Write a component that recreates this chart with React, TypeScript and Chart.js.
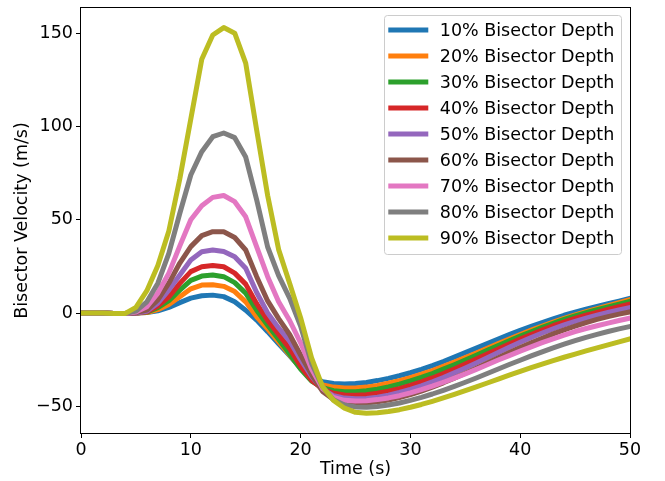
import React, { useEffect, useRef } from "react";
import { Chart, registerables } from "chart.js";
Chart.register(...registerables);

const time = [0, 1, 2, 3, 4, 5, 6, 7, 8, 9, 10, 11, 12, 13, 14, 15, 16, 17, 18, 19, 20, 21, 22, 23, 24, 25, 26, 27, 28, 29, 30, 31, 32, 33, 34, 35, 36, 37, 38, 39, 40, 41, 42, 43, 44, 45, 46, 47, 48, 49, 50];

const depth10 = [0, 0, 0, -0.2, -0.3, 0.0, 0.3, 1.2, 3.0, 5.6, 8.0, 9.3, 9.6, 8.8, 6.0, 1.5, -3.8, -10.0, -16.5, -22.8, -29.5, -34.5, -36.8, -37.7, -38.0, -37.8, -37.2, -36.2, -35.0, -33.6, -32.0, -30.2, -28.2, -26.0, -23.6, -21.2, -18.8, -16.4, -14.0, -11.6, -9.3, -7.2, -5.1, -3.1, -1.2, 0.5, 2.1, 3.6, 5.0, 6.4, 7.9];
const depth20 = [0, 0, 0, -0.2, -0.3, 0.0, 0.3, 1.8, 4.6, 8.7, 13.0, 15.0, 15.2, 14.3, 11.5, 6.0, -2.0, -8.5, -15.5, -22.5, -29.5, -35.5, -38.5, -39.7, -40.2, -40.2, -39.7, -38.8, -37.6, -36.2, -34.6, -32.8, -30.8, -28.6, -26.3, -23.9, -21.4, -18.9, -16.4, -13.9, -11.5, -9.2, -7.0, -4.9, -2.9, -1.0, 0.7, 2.4, 4.0, 5.6, 7.2];
const depth30 = [0, 0, 0, -0.2, -0.3, 0.0, 0.5, 2.9, 6.6, 12.3, 17.5, 19.8, 20.4, 19.5, 16.3, 10.7, 1.5, -6.5, -14.0, -22.0, -30.0, -36.5, -40.0, -41.6, -42.2, -42.2, -41.7, -40.8, -39.6, -38.1, -36.4, -34.5, -32.4, -30.1, -27.7, -25.2, -22.6, -20.0, -17.4, -14.9, -12.4, -10.0, -7.7, -5.5, -3.4, -1.5, 0.2, 1.8, 3.3, 4.8, 6.3];
const depth40 = [0, 0, 0, -0.2, -0.3, 0.0, 0.7, 3.8, 8.7, 15.9, 22.2, 24.8, 25.5, 24.8, 21.4, 15.5, 5.0, -4.0, -11.5, -19.0, -28.5, -36.0, -40.8, -43.0, -43.9, -44.1, -43.8, -43.0, -41.9, -40.5, -38.8, -36.9, -34.8, -32.5, -30.0, -27.4, -24.7, -22.0, -19.3, -16.6, -14.0, -11.5, -9.1, -6.8, -4.8, -2.9, -1.2, 0.4, 1.9, 3.4, 4.8];
const depth50 = [0, 0, 0, -0.2, -0.3, 0.0, 1.0, 5.3, 12.3, 20.4, 28.4, 32.9, 33.8, 33.0, 30.2, 24.0, 11.0, 0.0, -8.0, -15.0, -25.0, -34.0, -41.0, -44.3, -45.6, -46.0, -45.8, -45.1, -44.0, -42.6, -40.9, -39.0, -36.9, -34.6, -32.1, -29.5, -26.8, -24.0, -21.2, -18.4, -15.7, -13.1, -10.7, -8.5, -6.4, -4.5, -2.8, -1.2, 0.3, 1.7, 3.0];
const depth60 = [0, 0, 0, -0.2, -0.3, 0.2, 1.6, 7.0, 16.0, 26.8, 35.6, 41.5, 43.6, 43.6, 40.5, 33.8, 19.5, 6.5, -3.0, -11.5, -22.5, -33.0, -42.0, -46.3, -47.8, -48.3, -48.2, -47.6, -46.6, -45.3, -43.7, -41.8, -39.7, -37.4, -34.9, -32.3, -29.6, -26.8, -24.0, -21.2, -18.5, -16.0, -13.6, -11.2, -9.0, -7.0, -5.1, -3.4, -1.9, -0.6, 0.6];
const depth70 = [0, 0, 0, -0.2, -0.3, 0.5, 3.4, 10.7, 21.4, 36.0, 50.0, 57.5, 62.0, 63.0, 59.7, 51.6, 35.5, 19.5, 6.0, -4.0, -16.0, -30.0, -40.5, -45.2, -46.8, -47.2, -47.0, -46.4, -45.5, -44.3, -42.8, -41.1, -39.2, -37.1, -34.9, -32.6, -30.2, -27.7, -25.2, -22.8, -20.4, -18.1, -15.9, -13.8, -11.8, -9.9, -8.3, -6.8, -5.4, -4.0, -2.7];
const depth80 = [0, 0, 0, -0.2, -0.3, 1.0, 6.0, 16.0, 32.0, 53.5, 74.0, 86.5, 94.5, 96.5, 94.0, 83.6, 60.6, 35.4, 20.0, 8.0, -7.0, -27.0, -39.5, -46.5, -49.3, -50.3, -50.5, -50.1, -49.3, -48.2, -46.8, -45.2, -43.4, -41.4, -39.3, -37.1, -34.8, -32.4, -30.0, -27.6, -25.3, -23.0, -20.8, -18.7, -16.7, -14.8, -13.0, -11.4, -9.9, -8.5, -7.2];
const depth90 = [0, 0, 0, -0.2, -0.3, 3.0, 12.0, 25.5, 44.0, 72.0, 104.0, 136.0, 149.0, 153.0, 150.0, 134.0, 98.0, 63.0, 34.0, 16.0, -2.5, -24.0, -39.5, -46.8, -51.0, -53.2, -53.7, -53.5, -52.8, -51.8, -50.5, -49.0, -47.3, -45.5, -43.6, -41.6, -39.6, -37.5, -35.4, -33.3, -31.3, -29.3, -27.4, -25.5, -23.7, -22.0, -20.3, -18.7, -17.1, -15.5, -13.8];

const seriesLabels = ["10% Bisector Depth", "20% Bisector Depth", "30% Bisector Depth", "40% Bisector Depth", "50% Bisector Depth", "60% Bisector Depth", "70% Bisector Depth", "80% Bisector Depth", "90% Bisector Depth"];
const seriesColors = ["#1f77b4", "#ff7f0e", "#2ca02c", "#d62728", "#9467bd", "#8c564b", "#e377c2", "#7f7f7f", "#bcbd22"];
const xTicks = [0, 10, 20, 30, 40, 50];
const yTicks = [-50, 0, 50, 100, 150];

const FONT = "'DejaVu Sans', sans-serif";
const FS = 17.5;

const spinesPlugin = {
  id: "spines",
  afterDatasetsDraw(chart: any) {
    const { ctx, chartArea } = chart;
    const { left, top, right, bottom } = chartArea;
    ctx.save();
    ctx.strokeStyle = "#000";
    ctx.lineWidth = 1;
    ctx.strokeRect(left - 0.5, top - 0.5, right - left + 1, bottom - top + 1);
    ctx.restore();
  },
};

const legendPlugin = {
  id: "mplLegend",
  afterDraw(chart: any) {
    const { ctx, chartArea } = chart;
    const datasets = chart.data.datasets;
    ctx.save();
    ctx.font = `${FS}px ${FONT}`;
    const textW = Math.max(...datasets.map((d: any) => ctx.measureText(d.label).width));
    const pad = 0.4 * FS;
    const handleLen = 2 * FS;
    const handlePad = 0.8 * FS;
    const axPad = 0.5 * FS;
    const rowH = 26;
    const textH = 17;
    const boxW = pad * 2 + handleLen + handlePad + textW;
    const boxH = pad * 2 + (datasets.length - 1) * rowH + textH;
    const x1 = chartArea.right - axPad;
    const x0 = x1 - boxW;
    const y0 = chartArea.top + 6.5;
    ctx.beginPath();
    ctx.roundRect(Math.round(x0) + 0.5, Math.round(y0) + 0.5, Math.round(boxW), Math.round(boxH), 3);
    ctx.fillStyle = "rgba(255,255,255,0.8)";
    ctx.fill();
    ctx.strokeStyle = "#cccccc";
    ctx.lineWidth = 1;
    ctx.stroke();
    datasets.forEach((d: any, i: number) => {
      const cy = y0 + pad + textH / 2 + i * rowH;
      ctx.beginPath();
      ctx.strokeStyle = d.borderColor;
      ctx.lineWidth = 5;
      ctx.lineCap = "square";
      ctx.moveTo(x0 + pad, cy);
      ctx.lineTo(x0 + pad + handleLen, cy);
      ctx.stroke();
      ctx.fillStyle = "#000";
      ctx.textBaseline = "middle";
      ctx.textAlign = "left";
      ctx.fillText(d.label, x0 + pad + handleLen + handlePad, cy + 1);
    });
    ctx.restore();
  },
};

export default function App() {
  const ref = useRef<HTMLCanvasElement>(null);
  useEffect(() => {
    if (!ref.current) return;
    const seriesValues = [depth10, depth20, depth30, depth40, depth50, depth60, depth70, depth80, depth90];
    const datasets = seriesValues.map((vals, i) => ({
      label: seriesLabels[i],
      data: time.map((t, j) => ({ x: t, y: vals[j] })),
      borderColor: seriesColors[i],
      backgroundColor: seriesColors[i],
      borderWidth: 5,
      pointRadius: 0,
      tension: 0,
      fill: false,
      order: seriesValues.length - i,
      clip: 0,
      borderJoinStyle: "round",
      borderCapStyle: "square",
    }));
    const tickFont = { family: FONT, size: FS };
    const chart = new Chart(ref.current, {
      type: "line",
      data: { datasets } as any,
      options: {
        animation: false,
        responsive: false,
        devicePixelRatio: 1,
        layout: { padding: { left: 0, right: 35, top: 8, bottom: 0 } },
        plugins: { legend: { display: false }, tooltip: { enabled: false } },
        scales: {
          x: {
            type: "linear",
            min: 0,
            max: 50,
            afterBuildTicks: (s: any) => {
              s.ticks = xTicks.map((v) => ({ value: v }));
            },
            afterFit: (s: any) => {
              s.height = 48;
              s.paddingLeft = 0;
              s.paddingRight = 0;
            },
            grid: { drawOnChartArea: false, drawTicks: true, tickLength: 5, color: "#000", lineWidth: 1 },
            border: { display: false },
            ticks: { color: "#000", font: tickFont, padding: 2, maxRotation: 0, autoSkip: false },
            title: { display: true, text: "Time (s)", color: "#000", font: tickFont, padding: { top: 0, bottom: 1.5 } },
          },
          y: {
            type: "linear",
            min: -64.3,
            max: 163.5,
            afterBuildTicks: (s: any) => {
              s.ticks = yTicks.map((v) => ({ value: v }));
            },
            afterFit: (s: any) => {
              s.width = 81;
              s.paddingTop = 0;
              s.paddingBottom = 0;
            },
            grid: { drawOnChartArea: false, drawTicks: true, tickLength: 5, color: "#000", lineWidth: 1 },
            border: { display: false },
            ticks: {
              color: "#000",
              font: tickFont,
              padding: 3,
              autoSkip: false,
              callback: (v: any) => String(v).replace("-", "\u2212"),
            },
            title: { display: true, text: "Bisector Velocity (m/s)", color: "#000", font: tickFont, padding: { top: 11.5, bottom: 0 } },
          },
        },
      } as any,
      plugins: [spinesPlugin, legendPlugin],
    });
    return () => chart.destroy();
  }, []);
  return (
    <div style={{ position: "absolute", left: 0, top: 0, width: 665, height: 481, background: "#fff" }}>
      <canvas ref={ref} width={665} height={481} />
    </div>
  );
}
